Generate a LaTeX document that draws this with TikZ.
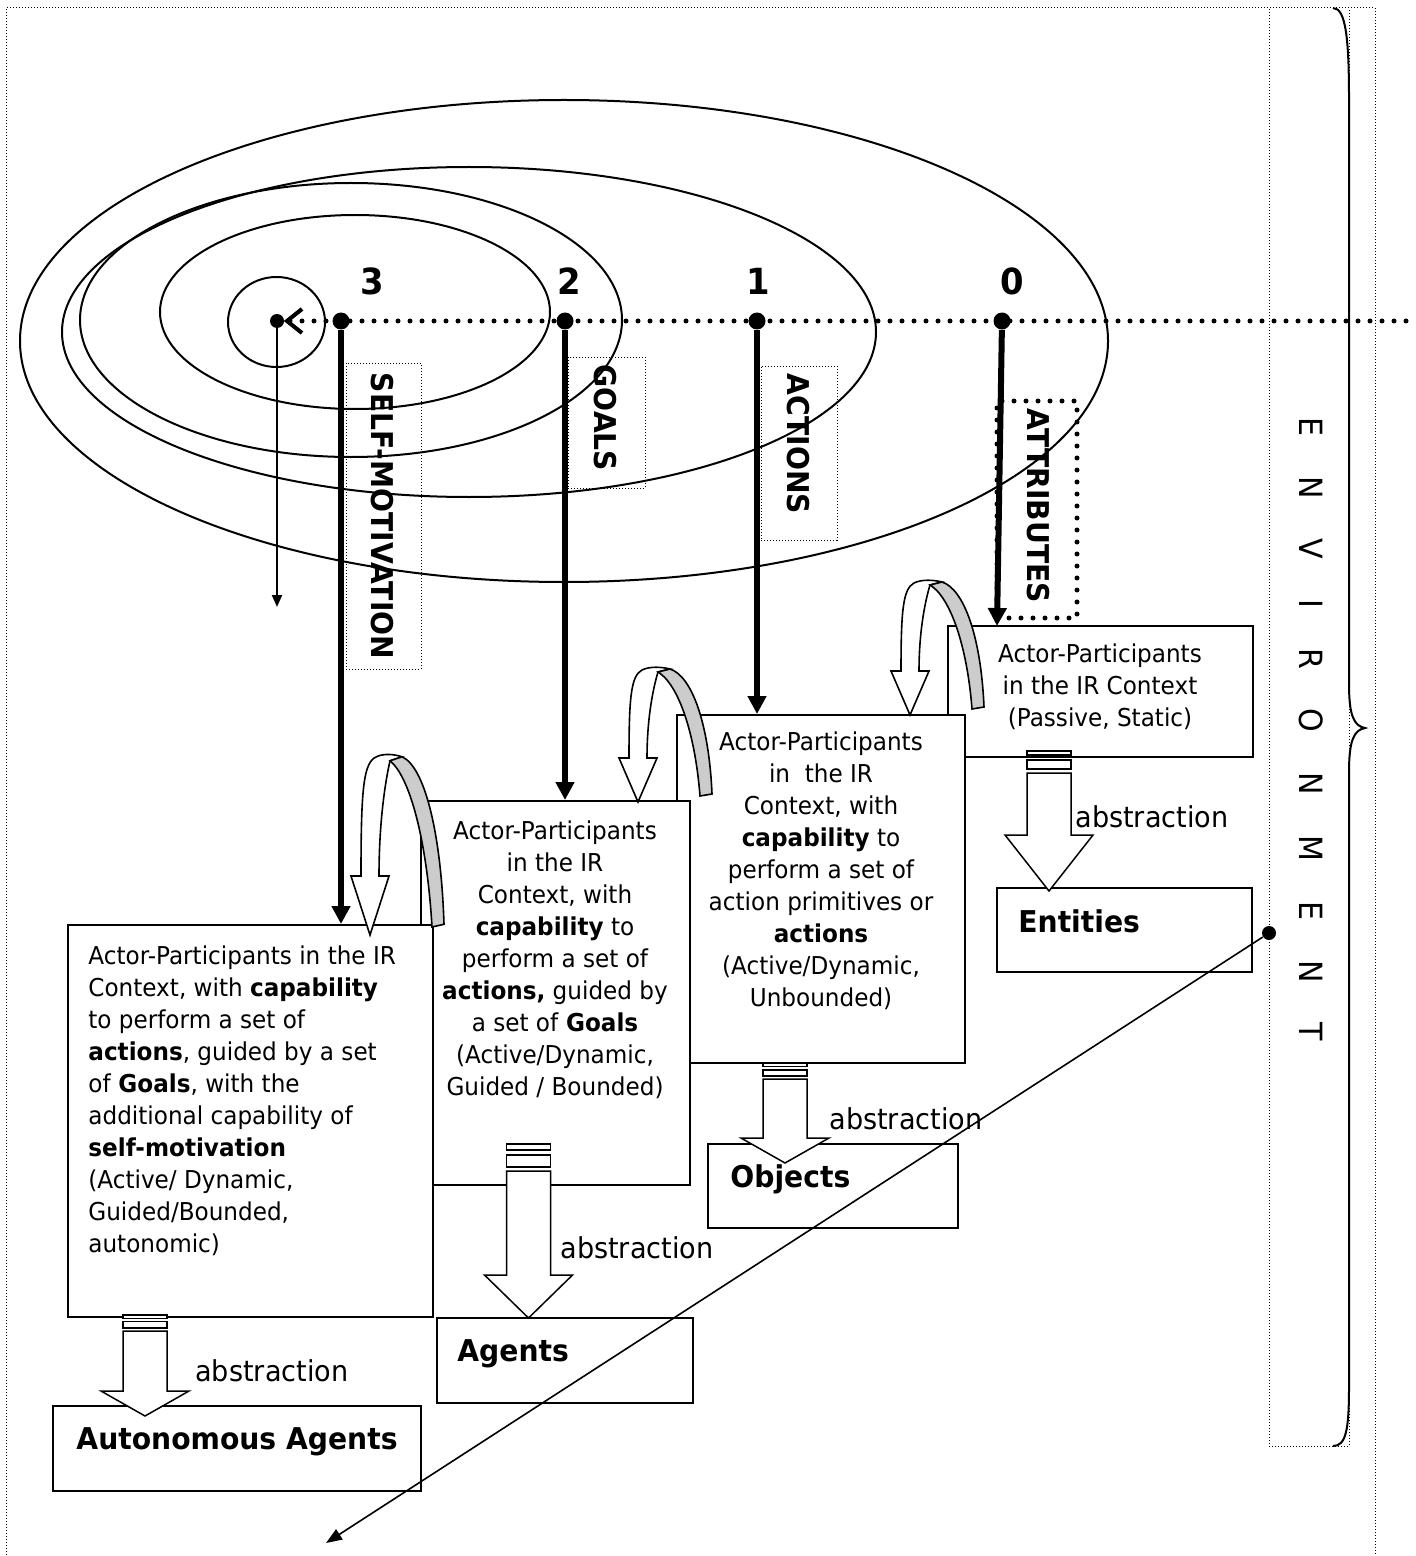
\documentclass[tikz,border=0pt]{standalone}
\usepackage{fontspec}
\setmainfont{DejaVu Sans}[FakeStretch=0.94]
\usetikzlibrary{arrows.meta,fit}
\newcommand\envgap{\hskip 20pt\relax}
% block arrow with two stripes: centre x, top y, stripe1 bottom, stripe2 top, stripe2 bottom, shaft top, head y, tip y
\newcommand\abstractionarrow[8]{%
  \draw[line width=0.75pt, fill=white] (#1-22,#2) rectangle (#1+22,#2+#3);
  \draw[line width=0.75pt, fill=white] (#1-22,#2+#4) rectangle (#1+22,#2+#5);
  \draw[line width=0.75pt, fill=white] (#1-22,#2+#6) -- (#1-22,#7) -- (#1-44,#7) -- (#1,#8)
     -- (#1+44,#7) -- (#1+22,#7) -- (#1+22,#2+#6) -- cycle;}
\begin{document}
\begin{tikzpicture}[x=0.5pt,y=-0.5pt,
  every node/.style={inner sep=0pt},
  finedot/.style={line width=0.5pt, dash pattern=on 0.5pt off 1pt},
  heavydots/.style={line width=2.5pt, dash pattern=on 0pt off 6pt, line cap=round},
  ellline/.style={line width=1pt},
  actorbox/.style={draw, line width=1pt, fill=white},
  resultbox/.style={draw, line width=1pt, fill=white},
  boxtxt/.style={font=\fontsize{12.3pt}{16pt}\selectfont, align=center},
  boldlabel/.style={font=\fontsize{15pt}{18pt}\selectfont\bfseries},
  levelnum/.style={font=\fontsize{18pt}{20pt}\selectfont\bfseries},
  sidelabel/.style={font=\fontsize{15pt}{18pt}\selectfont\bfseries, rotate=-90},
  abslabel/.style={font=\fontsize{14.4pt}{17pt}\selectfont, anchor=base west},
  heavyarrow/.style={line width=3pt, -{Triangle[length=9pt,width=9pt]}},
  bigdot/.style={circle, fill=black, minimum size=8.5pt},
  uturn/.pic={
    \draw[line width=0.8pt, fill=white] (-9,-44) .. controls (-9,-105) and (-7,-126) .. (4,-132)
      .. controls (12,-136) and (24,-135) .. (32,-133) -- (20,-130)
      .. controls (14,-110) and (9,-80) .. (9,-44) -- (19,-44) -- (0,0) -- (-19,-44) -- cycle;
    \draw[line width=0.8pt, fill=black!20] (20,-130) .. controls (40,-118) and (57,-70) .. (62,-6)
      -- (74,-8) .. controls (71,-78) and (54,-126) .. (32,-133) -- cycle;
  },
]
\useasboundingbox (0,0) rectangle (1415,1556);
\clip (0,0) rectangle (1415,1556);

% frame, environment strip and brace
\draw[finedot] (6,1600) -- (6,8) -- (1375,8) -- (1375,1600);
\node[draw, finedot, fit={(1269,8)(1349,1446)}] (envbox) {};
\draw[line width=1pt] (1333,8) .. controls (1346,8) and (1349,40) .. (1349,100) -- (1349,684)
  .. controls (1349,716) and (1354,726) .. (1365,728) .. controls (1354,730) and (1349,740) .. (1349,772)
  -- (1349,1386) .. controls (1349,1430) and (1346,1446) .. (1333,1446);
\node[rotate=-90, font=\fontsize{16pt}{18pt}\selectfont] (envtxt) at (1311,729)
  {E\envgap N\envgap V\envgap I\envgap R\envgap O\envgap N\envgap M\envgap E\envgap N\envgap T};

% nested levels
\draw[ellline] (564,341) ellipse [x radius=272pt, y radius=120.5pt];
\draw[ellline] (469,332) ellipse [x radius=203.5pt, y radius=82.5pt];
\draw[ellline] (351,320) ellipse [x radius=135.5pt, y radius=68.5pt];
\draw[ellline] (355,312) ellipse [x radius=97.5pt, y radius=48.5pt];
\draw[ellline] (276.5,322) ellipse [x radius=24.25pt, y radius=22.5pt];

% level axis
\node[bigdot, minimum size=7pt] (c) at (277,321) {};
\coordinate (edgeR) at (1420,321);
\draw[heavydots] (290,321) -- (edgeR);
\draw[line width=2pt] (302,309) -- (287,321) -- (302,333);
\coordinate (cEnd) at (277,607);
\draw[line width=1pt, -{Triangle[length=6pt,width=5pt]}] (c) -- (cEnd);
\node[bigdot] (d3) at (341,321) {};
\node[bigdot] (d2) at (565,321) {};
\node[bigdot] (d1) at (757,321) {};
\node[bigdot] (d0) at (1002,321) {};
\node[levelnum] (n3) at (372,281) {3};
\node[levelnum] (n2) at (569,281) {2};
\node[levelnum] (n1) at (758,281) {1};
\node[levelnum] (n0) at (1012,281) {0};

% level names
\node[draw, finedot, fit={(346,363)(421,669)}] (lSM) {};
\node[sidelabel] (tSM) at (382,516) {SELF-MOTIVATION};
\node[draw, finedot, fit={(568,357)(645,488)}] (lG) {};
\node[sidelabel] (tG) at (605,418) {GOALS};
\node[draw, finedot, fit={(761,366)(837,540)}] (lAc) {};
\node[sidelabel] (tAc) at (798,444) {ACTIONS};
\node[draw, heavydots, fit={(997,401)(1077,618)}] (lAt) {};
\node[sidelabel] (tAt) at (1038,506) {ATTRIBUTES};

% actor boxes
\node[actorbox, fit={(948,626)(1253,757)}] (bE) {};
\node[boxtxt] (tE) at (1100,687) {Actor-Participants\\in the IR Context\\(Passive, Static)};
\node[actorbox, fit={(677,715)(965,1063)}] (bO) {};
\node[boxtxt] (tO) at (821,871) {Actor-Participants\\in\ \ the IR\\Context, with\\\textbf{capability} to\\perform a set of\\action primitives or\\\textbf{actions}\\(Active/Dynamic,\\Unbounded)};
\node[actorbox, fit={(421,801)(690,1185)}] (bA) {};
\node[boxtxt] (tA) at (555,960) {Actor-Participants\\in the IR\\Context, with\\\textbf{capability} to\\perform a set of\\\textbf{actions,} guided by\\a set of \textbf{Goals}\\(Active/Dynamic,\\Guided / Bounded)};
\node[actorbox, fit={(68,925)(433,1317)}] (bAA) {};
\node[boxtxt, align=left, anchor=west] (tAA) at (88,1101) {Actor-Participants in the IR\\Context, with \textbf{capability}\\to perform a set of\\\textbf{actions}, guided by a set\\of \textbf{Goals}, with the\\additional capability of\\\textbf{self-motivation}\\(Active/ Dynamic,\\Guided/Bounded,\\autonomic)};

% level arrows
\coordinate (t0) at (997,626);
\draw[heavyarrow] (d3) -- (d3 |- bAA.north);
\draw[heavyarrow] (d2) -- (d2 |- bA.north);
\draw[heavyarrow] (d1) -- (d1 |- bO.north);
\draw[heavyarrow] (d0) -- (t0);

% turning arrows between neighbouring actors
\pic at (910,715) {uturn};
\pic at (638,802) {uturn};
\pic[yscale=1.34] at (370,935) {uturn};

% abstractions
\node[resultbox, fit={(997,888)(1252,972)}] (rE) {};
\node[boldlabel, anchor=base west] (lbE) at (1018,932) {Entities};
\node[resultbox, fit={(708,1144)(958,1228)}] (rO) {};
\node[boldlabel, anchor=base west] (lbO) at (730,1187) {Objects};
\node[resultbox, fit={(437,1318)(693,1403)}] (rA) {};
\node[boldlabel, anchor=base west] (lbA) at (457,1361) {Agents};
\node[resultbox, fit={(53,1406)(421,1491)}] (rAA) {};
\node[boldlabel, anchor=base] (lbAA) at (237,1449) {Autonomous Agents};

\abstractionarrow{1049}{751}{4}{9}{18}{22}{835}{891}
\abstractionarrow{785}{1063}{3.5}{7}{13}{16}{1138}{1163}
\abstractionarrow{528.5}{1144}{6}{11}{23}{27}{1275}{1318}
\abstractionarrow{145}{1315}{3.5}{6.5}{13}{16}{1391}{1416}

\node[abslabel] (aE) at (1075,827) {abstraction};
\node[abslabel] (aO) at (829,1129) {abstraction};
\node[abslabel] (aA) at (560,1258) {abstraction};
\node[abslabel] (aAA) at (195,1381) {abstraction};

% environment link
\node[bigdot, minimum size=7pt] (dEnv) at (1269,933) {};
\coordinate (dEnd) at (326,1543);
\draw[line width=0.8pt, -{Triangle[length=8pt,width=6pt]}] (dEnv) -- (dEnd);
\end{tikzpicture}
\end{document}
